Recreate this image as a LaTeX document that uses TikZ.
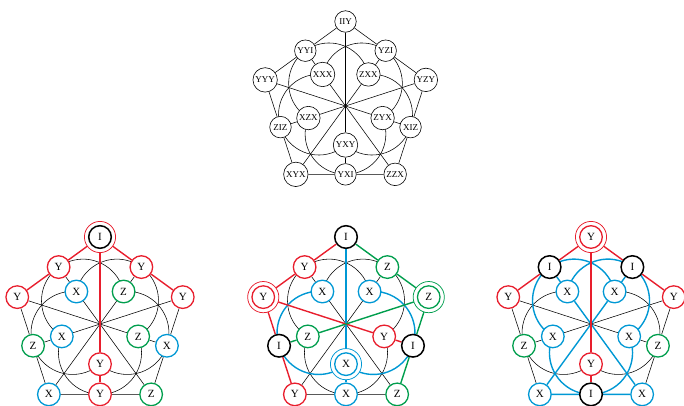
\documentclass[tikz,border=0pt]{standalone}
\usepackage{fontspec}
\setmainfont{Liberation Serif}
\usetikzlibrary{calc}
\definecolor{cR}{RGB}{232,30,45}
\definecolor{cB}{RGB}{0,152,212}
\definecolor{cG}{RGB}{0,158,77}
\pgfdeclarelayer{bg}
\pgfdeclarelayer{mid}
\pgfsetlayers{bg,mid,main}
\newcommand\dnode[6]{\node[#5] (#1#2) at ($(#1O)+(#3:#4pt)$) {#6};}
\newcommand\dline[5]{\draw[#5] (#1#2)--(#1#3)--(#1#4);}
\newcommand\dcirc[5]{\draw[#5] ($(#1O)+(#2:#3pt)+(#2-113.27:#4pt)$) arc[start angle={#2-113.27}, end angle={#2+113.27}, radius=#4pt];}
\newcommand\dring[2]{\draw[ringc=#2] (#1.center) circle[radius=15.6pt];}
\begin{document}
\begin{tikzpicture}[x=1pt,y=1pt,
 tn/.style={circle,draw,fill=white,line width=0.6pt,inner sep=1.6pt,minimum size=21.5pt,font=\fontsize{9}{10}\selectfont},
 pn/.style={circle,draw=#1,fill=white,line width=1.3pt,minimum size=22.6pt,inner sep=0pt,font=\fontsize{11}{12}\selectfont},
 tl/.style={line width=0.55pt,draw=black},
 cl/.style={line width=1.4pt,draw=#1},
 ringc/.style={draw=#1,fill=white,line width=0.75pt}]
\useasboundingbox (0,0) rectangle (684,405);
\coordinate (tO) at (345.5,299);
\coordinate (aO) at (100,81);
\coordinate (bO) at (346,81);
\coordinate (cO) at (591,81);
% ---------- top diagram ----------
\dnode{t}{V0}{90}{84.5}{tn}{IIY}
\dnode{t}{V1}{162}{84.5}{tn}{YYY}
\dnode{t}{V2}{234}{84.5}{tn}{XYX}
\dnode{t}{V3}{306}{84.5}{tn}{ZZX}
\dnode{t}{V4}{18}{84.5}{tn}{YZY}
\dnode{t}{M126}{126}{68.36}{tn}{YYI}
\dnode{t}{M198}{198}{68.36}{tn}{ZIZ}
\dnode{t}{M270}{270}{68.36}{tn}{YXI}
\dnode{t}{M342}{342}{68.36}{tn}{XIZ}
\dnode{t}{M54}{54}{68.36}{tn}{YZI}
\dnode{t}{I126}{126}{39}{tn}{XXX}
\dnode{t}{I54}{54}{39}{tn}{ZXX}
\dnode{t}{I342}{342}{39}{tn}{ZYX}
\dnode{t}{I270}{270}{39}{tn}{YXY}
\dnode{t}{I198}{198}{39}{tn}{XZX}
\begin{pgfonlayer}{bg}
\dline{t}{V0}{M126}{V1}{tl}
\dline{t}{V1}{M198}{V2}{tl}
\dline{t}{V2}{M270}{V3}{tl}
\dline{t}{V3}{M342}{V4}{tl}
\dline{t}{V4}{M54}{V0}{tl}
\dline{t}{V0}{I270}{M270}{tl}
\dline{t}{V1}{I342}{M342}{tl}
\dline{t}{V2}{I54}{M54}{tl}
\dline{t}{V3}{I126}{M126}{tl}
\dline{t}{V4}{I198}{M198}{tl}
\dcirc{t}{126}{28.0}{40.37}{tl}
\dcirc{t}{198}{28.0}{40.37}{tl}
\dcirc{t}{270}{28.0}{40.37}{tl}
\dcirc{t}{342}{28.0}{40.37}{tl}
\dcirc{t}{54}{28.0}{40.37}{tl}
\end{pgfonlayer}
% ---------- panel a ----------
\dnode{a}{V0}{90}{87}{pn=black,line width=1.5pt}{I}
\dnode{a}{V1}{162}{87}{pn=cR}{Y}
\dnode{a}{V2}{234}{87}{pn=cB}{X}
\dnode{a}{V3}{306}{87}{pn=cG}{Z}
\dnode{a}{V4}{18}{87}{pn=cR}{Y}
\dnode{a}{M126}{126}{70.38}{pn=cR}{Y}
\dnode{a}{M198}{198}{70.38}{pn=cG}{Z}
\dnode{a}{M270}{270}{70.38}{pn=cR}{Y}
\dnode{a}{M342}{342}{70.38}{pn=cB}{X}
\dnode{a}{M54}{54}{70.38}{pn=cR}{Y}
\dnode{a}{I126}{126}{40.15}{pn=cB}{X}
\dnode{a}{I54}{54}{40.15}{pn=cG}{Z}
\dnode{a}{I342}{342}{40.15}{pn=cG}{Z}
\dnode{a}{I270}{270}{40.15}{pn=cR}{Y}
\dnode{a}{I198}{198}{40.15}{pn=cB}{X}
\begin{pgfonlayer}{mid}
\dring{aV0}{cR}
\end{pgfonlayer}
\begin{pgfonlayer}{bg}
\dline{a}{V1}{M198}{V2}{tl}
\dline{a}{V2}{M270}{V3}{tl}
\dline{a}{V3}{M342}{V4}{tl}
\dline{a}{V1}{I342}{M342}{tl}
\dline{a}{V2}{I54}{M54}{tl}
\dline{a}{V3}{I126}{M126}{tl}
\dline{a}{V4}{I198}{M198}{tl}
\dcirc{a}{126}{28.82}{41.56}{tl}
\dcirc{a}{198}{28.82}{41.56}{tl}
\dcirc{a}{270}{28.82}{41.56}{tl}
\dcirc{a}{342}{28.82}{41.56}{tl}
\dcirc{a}{54}{28.82}{41.56}{tl}
\dline{a}{V0}{M126}{V1}{cl=cR}
\dline{a}{V4}{M54}{V0}{cl=cR}
\dline{a}{V0}{I270}{M270}{cl=cR}
\end{pgfonlayer}
% ---------- panel b ----------
\dnode{b}{V0}{90}{87}{pn=black,line width=1.5pt}{I}
\dnode{b}{V1}{162}{87}{pn=cR}{Y}
\dnode{b}{V2}{234}{87}{pn=cR}{Y}
\dnode{b}{V3}{306}{87}{pn=cG}{Z}
\dnode{b}{V4}{18}{87}{pn=cG}{Z}
\dnode{b}{M126}{126}{70.38}{pn=cR}{Y}
\dnode{b}{M198}{198}{70.38}{pn=black,line width=1.5pt}{I}
\dnode{b}{M270}{270}{70.38}{pn=cB}{X}
\dnode{b}{M342}{342}{70.38}{pn=black,line width=1.5pt}{I}
\dnode{b}{M54}{54}{70.38}{pn=cG}{Z}
\dnode{b}{I126}{126}{40.15}{pn=cB}{X}
\dnode{b}{I54}{54}{40.15}{pn=cB}{X}
\dnode{b}{I342}{342}{40.15}{pn=cR}{Y}
\dnode{b}{I270}{270}{40.15}{pn=cB}{X}
\dnode{b}{I198}{198}{40.15}{pn=cG}{Z}
\begin{pgfonlayer}{mid}
\dring{bV1}{cR}
\dring{bV4}{cG}
\dring{bI270}{cB}
\end{pgfonlayer}
\begin{pgfonlayer}{bg}
\dline{b}{V2}{M270}{V3}{tl}
\dline{b}{V2}{I54}{M54}{tl}
\dline{b}{V3}{I126}{M126}{tl}
\dcirc{b}{126}{28.82}{41.56}{tl}
\dcirc{b}{270}{28.82}{41.56}{tl}
\dcirc{b}{54}{28.82}{41.56}{tl}
\dcirc{b}{198}{28.82}{41.56}{cl=cB}
\dcirc{b}{342}{28.82}{41.56}{cl=cB}
\dline{b}{V0}{I270}{M270}{cl=cB}
\dline{b}{V0}{M126}{V1}{cl=cR}
\dline{b}{V1}{M198}{V2}{cl=cR}
\dline{b}{V1}{I342}{M342}{cl=cR}
\dline{b}{V4}{M54}{V0}{cl=cG}
\dline{b}{V3}{M342}{V4}{cl=cG}
\dline{b}{V4}{I198}{M198}{cl=cG}
\end{pgfonlayer}
% ---------- panel c ----------
\dnode{c}{V0}{90}{87}{pn=cR}{Y}
\dnode{c}{V1}{162}{87}{pn=cR}{Y}
\dnode{c}{V2}{234}{87}{pn=cB}{X}
\dnode{c}{V3}{306}{87}{pn=cB}{X}
\dnode{c}{V4}{18}{87}{pn=cR}{Y}
\dnode{c}{M126}{126}{70.38}{pn=black,line width=1.5pt}{I}
\dnode{c}{M198}{198}{70.38}{pn=cG}{Z}
\dnode{c}{M270}{270}{70.38}{pn=black,line width=1.5pt}{I}
\dnode{c}{M342}{342}{70.38}{pn=cG}{Z}
\dnode{c}{M54}{54}{70.38}{pn=black,line width=1.5pt}{I}
\dnode{c}{I126}{126}{40.15}{pn=cB}{X}
\dnode{c}{I54}{54}{40.15}{pn=cB}{X}
\dnode{c}{I342}{342}{40.15}{pn=cB}{X}
\dnode{c}{I270}{270}{40.15}{pn=cR}{Y}
\dnode{c}{I198}{198}{40.15}{pn=cB}{X}
\begin{pgfonlayer}{mid}
\dring{cV0}{cR}
\end{pgfonlayer}
\begin{pgfonlayer}{bg}
\dline{c}{V1}{M198}{V2}{tl}
\dline{c}{V3}{M342}{V4}{tl}
\dline{c}{V1}{I342}{M342}{tl}
\dline{c}{V4}{I198}{M198}{tl}
\dcirc{c}{198}{28.82}{41.56}{tl}
\dcirc{c}{342}{28.82}{41.56}{tl}
\dcirc{c}{126}{28.82}{41.56}{cl=cB}
\dcirc{c}{54}{28.82}{41.56}{cl=cB}
\dcirc{c}{270}{28.82}{41.56}{cl=cB}
\dline{c}{V2}{M270}{V3}{cl=cB}
\dline{c}{V2}{I54}{M54}{cl=cB}
\dline{c}{V3}{I126}{M126}{cl=cB}
\dline{c}{V0}{M126}{V1}{cl=cR}
\dline{c}{V4}{M54}{V0}{cl=cR}
\dline{c}{V0}{I270}{M270}{cl=cR}
\end{pgfonlayer}
\end{tikzpicture}
\end{document}
